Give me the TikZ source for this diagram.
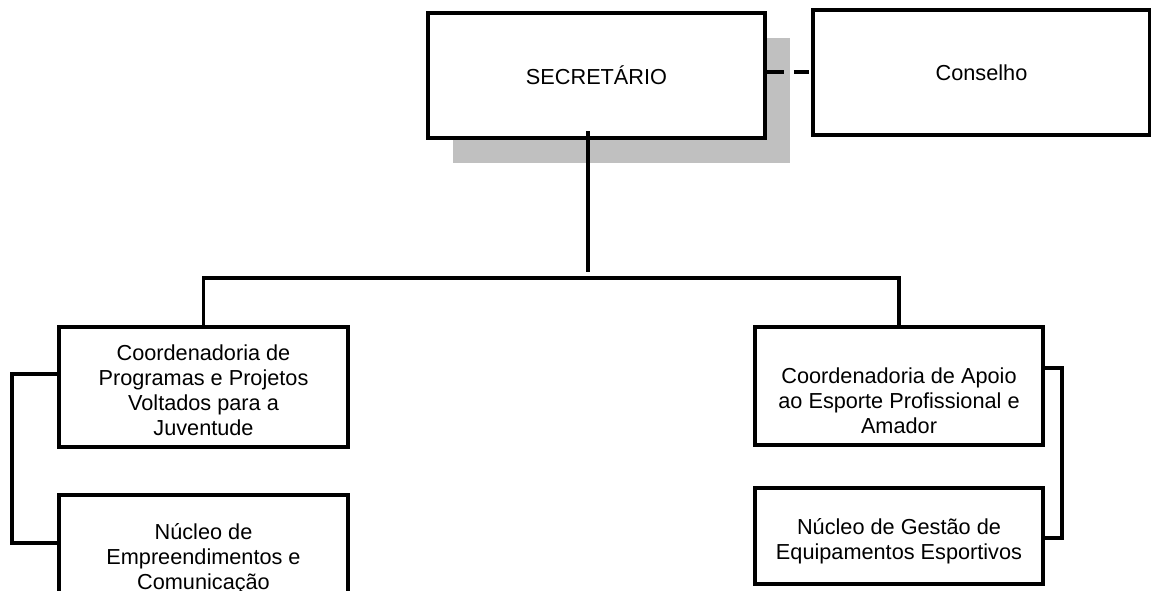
\documentclass[tikz,border=0pt]{standalone}
\usepackage{fontspec}
\setmainfont{Liberation Sans}
\begin{document}
\begin{tikzpicture}[x=1pt,y=-1pt,
  box/.style={draw=black,fill=white,line width=3.5pt,inner sep=0pt,align=center,
              font=\fontsize{21.7pt}{25pt}\selectfont},
  txt/.style={inner sep=0pt,align=center,font=\fontsize{21.7pt}{25pt}\selectfont},
  conn/.style={line width=3.5pt,line join=miter},
  dashconn/.style={line width=3.5pt,dash pattern=on 17pt off 10pt on 15pt off 20pt}]
\useasboundingbox (0,0) rectangle (1151,590);
\clip (0,0) rectangle (1151,590);
\definecolor{shadowgray}{HTML}{C0C0C0}
% shadow
\fill[shadowgray] (453,38) rectangle (790,163);
% boxes
\node[box,minimum width=337pt,minimum height=125pt] (sec) at (596.5,75.5) {SECRETÁRIO};
\node[box,minimum width=337pt,minimum height=125pt] (cons) at (981.5,72.5) {Conselho};
\node[box,minimum width=289pt,minimum height=120pt] (c1) at (203.5,387) {};
\node[txt] (c1t) at (203.5,390.5) {Coordenadoria de\\Programas e Projetos\\Voltados para a\\Juventude};
\node[box,minimum width=289pt,minimum height=128pt] (n1) at (203.5,559) {Núcleo de\\Empreendimentos e\\Comunicação};
\node[box,minimum width=288pt,minimum height=118pt] (c2) at (899,386) {};
\node[txt] (c2t) at (899,401) {Coordenadoria de Apoio\\ao Esporte Profissional e\\Amador};
\node[box,minimum width=288pt,minimum height=96pt] (n2) at (899,536) {};
\node[txt] (n2t) at (899,541) {Núcleo de Gestão de\\Equipamentos Esportivos};
% connectors
\draw[dashconn] (sec.east |- 0,72) -- (cons.west |- 0,72);
\coordinate (s1) at (588,131);
\coordinate (s2) at (588,272);
\draw[conn] (s1) -- (s2);
\coordinate (busL) at (203.5,278);
\coordinate (busR) at (899,278);
\draw[conn] (c1.north) -- (busL) -- (busR) -- (c2.north);
\coordinate (lb1) at (12,374);
\coordinate (lb2) at (12,543);
\draw[conn] (c1.west |- lb1) -- (lb1) -- (lb2) -- (n1.west |- lb2);
\coordinate (rb1) at (1062,368);
\coordinate (rb2) at (1062,538);
\draw[conn] (c2.east |- rb1) -- (rb1) -- (rb2) -- (n2.east |- rb2);
\end{tikzpicture}
\end{document}
